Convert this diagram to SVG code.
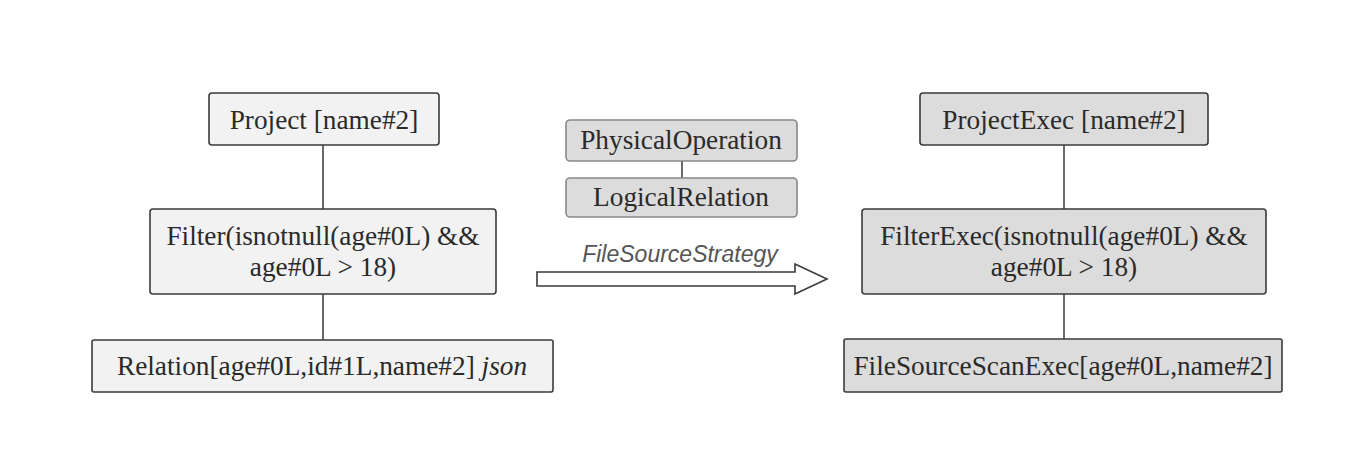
<svg xmlns="http://www.w3.org/2000/svg" width="1354" height="476" viewBox="0 0 1354 476">
  <style>
    .box { stroke: #3a3a3a; stroke-width: 1.6; }
    .light { fill: #f2f2f2; }
    .dark { fill: #dcdcdc; }
    .t { font-family: "Liberation Serif", "Times New Roman", serif; font-size: 27.3px; fill: #2a2a2a; text-anchor: middle; }
    .edge { stroke: #3a3a3a; stroke-width: 1.5; fill: none; }
    .lbl { font-family: "Liberation Sans", Arial, sans-serif; font-style: italic; font-size: 23px; fill: #555; text-anchor: middle; }
  </style>
  <rect width="1354" height="476" fill="#ffffff"/>
  <g id="connectors">
    <line class="edge" x1="323" y1="145" x2="323" y2="209"/>
    <line class="edge" x1="323" y1="294" x2="323" y2="340"/>
    <line class="edge" x1="682" y1="161" x2="682" y2="178"/>
    <line class="edge" x1="1064" y1="145" x2="1064" y2="209"/>
    <line class="edge" x1="1064" y1="294" x2="1064" y2="339"/>
    <g id="strategy-arrow">
      <polygon points="537,272 795,272 795,264 827,279 795,294 795,286 537,286" fill="#ffffff" stroke="#3a3a3a" stroke-width="1.6"/>
      <text class="lbl" x="680" y="262">FileSourceStrategy</text>
    </g>
  </g>
  <g id="project">
    <rect class="box light" x="209" y="93" width="230" height="52" rx="3"/>
    <text class="t" x="324" y="129">Project [name#2]</text>
  </g>
  <g id="filter">
    <rect class="box light" x="150" y="209" width="346" height="85" rx="3"/>
    <text class="t" x="323" y="245">Filter(isnotnull(age#0L) &amp;&amp;</text>
    <text class="t" x="323" y="276">age#0L &gt; 18)</text>
  </g>
  <g id="relation">
    <rect class="box light" x="92" y="340" width="461" height="52" rx="2"/>
    <text class="t" x="322" y="375">Relation[age#0L,id#1L,name#2] <tspan font-style="italic">json</tspan></text>
  </g>
  <g id="physical-operation">
    <rect class="box dark" x="566" y="120" width="231" height="41" rx="4" style="stroke:#888"/>
    <text class="t" x="681" y="149">PhysicalOperation</text>
  </g>
  <g id="logical-relation">
    <rect class="box dark" x="566" y="178" width="231" height="39" rx="4" style="stroke:#888"/>
    <text class="t" x="681" y="206">LogicalRelation</text>
  </g>
  <g id="project-exec">
    <rect class="box dark" x="920" y="93" width="288" height="52" rx="3"/>
    <text class="t" x="1064" y="129">ProjectExec [name#2]</text>
  </g>
  <g id="filter-exec">
    <rect class="box dark" x="862" y="209" width="404" height="85" rx="3"/>
    <text class="t" x="1064" y="245">FilterExec(isnotnull(age#0L) &amp;&amp;</text>
    <text class="t" x="1064" y="276">age#0L &gt; 18)</text>
  </g>
  <g id="filesource-scan-exec">
    <rect class="box dark" x="844" y="339" width="438" height="53" rx="2"/>
    <text class="t" x="1063" y="375">FileSourceScanExec[age#0L,name#2]</text>
  </g>
</svg>
